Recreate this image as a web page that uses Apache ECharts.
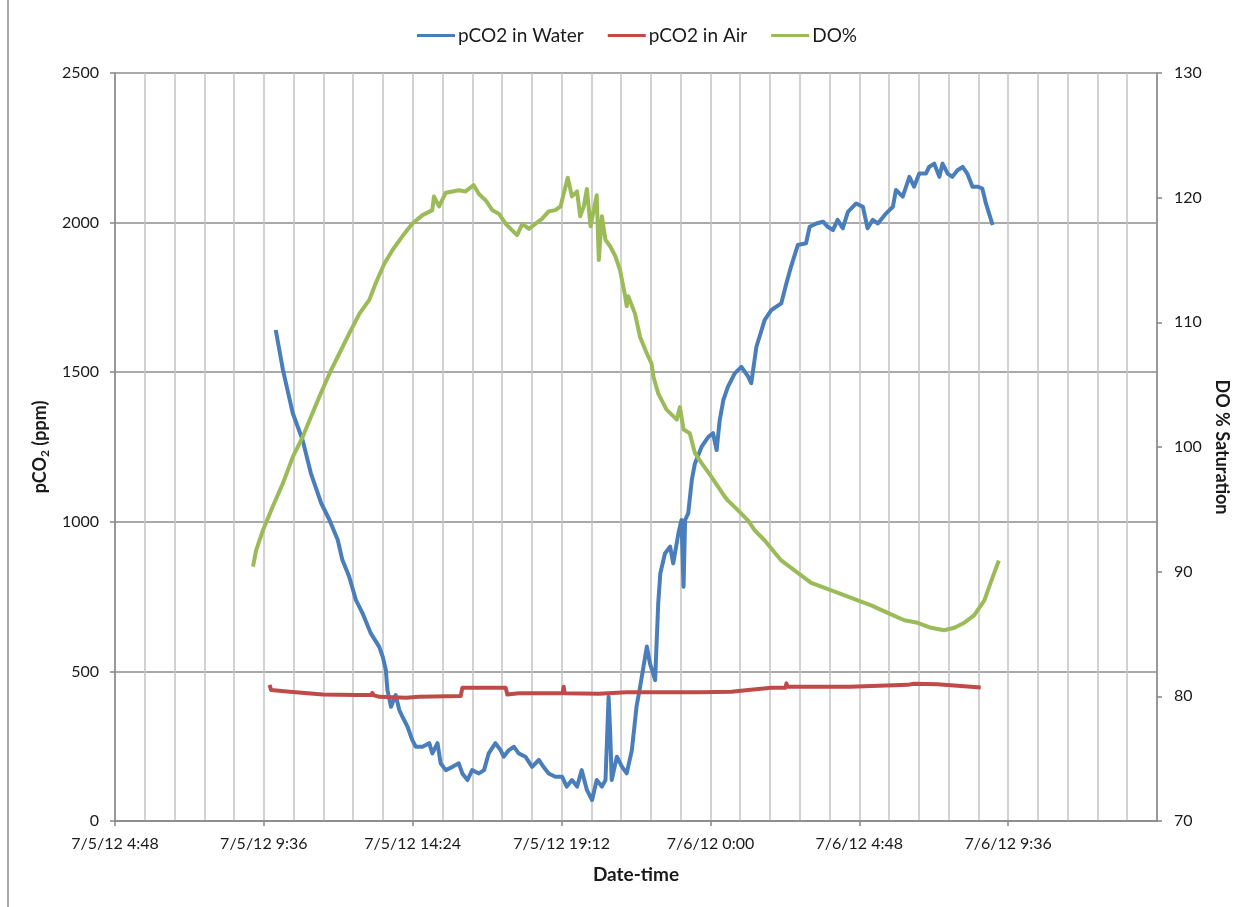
<!DOCTYPE html>
<html>
<head>
<meta charset="utf-8">
<script src="https://cdn.jsdelivr.net/npm/echarts@6/dist/echarts.min.js"></script>
<style>
  html, body { margin: 0; padding: 0; background: #ffffff; }
  #chart { width: 1256px; height: 907px; }
</style>
</head>
<body>
<div id="chart"></div>
<script>
// Time stamps are minutes after 7/5/12 00:00.
const xTickLabels = ['7/5/12 4:48', '7/5/12 9:36', '7/5/12 14:24', '7/5/12 19:12',
                     '7/6/12 0:00', '7/6/12 4:48', '7/6/12 9:36'];

// pCO2 in water (ppm)
const waterMinutes = [599,613,632,651,667,687,703,719,728,741,
  754,767,783,799,806,812,815,822,827,831,
  838,844,854,863,870,883,896,902,912,918,
  928,941,953,960,970,979,992,1002,1011,1024,
  1034,1040,1050,1060,1069,1082,1095,1108,1117,1127,
  1140,1153,1162,1172,1182,1191,1201,1211,1220,1230,
  1237,1243,1246,1249,1259,1269,1278,1288,1297,1304,
  1317,1323,1333,1339,1343,1352,1362,1368,1378,1384,
  1388,1391,1397,1404,1410,1423,1436,1445,1452,1458,
  1465,1474,1487,1500,1513,1519,1529,1545,1558,1577,
  1587,1596,1606,1609,1625,1632,1645,1658,1667,1677,
  1686,1696,1706,1722,1735,1744,1754,1764,1780,1793,
  1799,1812,1825,1834,1844,1857,1863,1873,1883,1889,
  1899,1908,1918,1928,1937,1947,1957,1966,1973,1979,
  1986];
const waterPpm = [1641,1507,1363,1273,1162,1062,1006,939,872,817,
  739,694,627,583,549,505,438,382,404,421,
  371,349,315,271,248,248,260,226,260,193,
  170,181,193,159,137,170,159,170,226,260,
  237,215,237,248,226,215,181,204,181,159,
  148,148,115,137,115,170,104,70,137,115,
  137,415,300,137,215,181,159,237,382,449,
  583,527,471,727,827,894,917,861,961,1006,
  783,1006,1028,1140,1195,1251,1284,1296,1240,1340,
  1407,1452,1496,1518,1485,1463,1585,1675,1708,1730,
  1797,1853,1908,1925,1931,1986,1997,2003,1986,1975,
  2009,1981,2036,2064,2053,1981,2009,1997,2031,2053,
  2109,2087,2153,2120,2164,2164,2186,2197,2153,2197,
  2164,2153,2175,2186,2164,2120,2120,2114,2064,2031,
  1992];

// pCO2 in air (ppm)
const airMinutes = [587,590,626,690,754,784,786,788,799,851,
  876,957,960,1044,1047,1069,1154,1156,1158,1224,
  1278,1420,1481,1513,1558,1585,1587,1589,1710,1712,
  1822,1834,1879,1918,1963];
const airPpm = [455,438,432,423,421,421,428,421,415,412,
  415,418,445,445,423,427,427,449,427,425,
  430,430,432,438,445,445,460,449,449,452,
  455,459,457,452,446];

// Dissolved oxygen (% saturation)
const doMinutes = [555,561,574,593,613,632,651,667,683,703,
  722,741,761,780,793,809,825,844,863,883,
  902,905,915,928,941,953,966,982,992,1005,
  1018,1031,1044,1056,1066,1076,1089,1101,1114,1127,
  1140,1150,1156,1164,1172,1182,1188,1195,1201,1208,
  1220,1224,1230,1237,1246,1256,1265,1275,1278,1281,
  1294,1304,1317,1326,1330,1339,1355,1375,1381,1388,
  1400,1410,1423,1442,1455,1468,1474,1494,1513,1526,
  1545,1577,1609,1635,1674,1706,1725,1751,1783,1815,
  1841,1867,1892,1912,1931,1950,1970,1982,1998];
const doPct = [90.4,91.7,93.3,95.2,97.1,99.2,100.8,102.4,104.0,105.9,
  107.5,109.1,110.7,111.8,113.2,114.7,115.8,116.9,117.9,118.6,
  119.0,120.1,119.3,120.4,120.5,120.6,120.5,121.0,120.3,119.8,
  119.0,118.7,117.9,117.4,117.0,117.9,117.5,117.9,118.3,118.9,
  119.0,119.3,120.3,121.6,120.1,120.5,118.5,119.3,120.7,117.7,
  120.2,115.0,118.5,116.6,116.1,115.3,114.2,112.1,111.3,112.1,
  110.7,108.8,107.5,106.7,105.6,104.3,103.0,102.2,103.2,101.4,
  101.1,99.5,98.7,97.6,96.8,96.0,95.7,94.9,94.1,93.3,
  92.5,90.9,89.9,89.1,88.5,88.0,87.7,87.3,86.7,86.1,
  85.9,85.5,85.3,85.5,85.9,86.5,87.7,89.1,90.9];

const zip = (xs, ys) => xs.map((x, i) => [x, ys[i]]);

const FONT = 'Lato, "Liberation Sans", sans-serif';
const TEXT = '#1a1a1a';
const AXIS = '#868686';

const chart = echarts.init(document.getElementById('chart'), null, { renderer: 'canvas' });

chart.setOption({
  animation: false,
  backgroundColor: '#ffffff',
  textStyle: { fontFamily: FONT },
  graphic: [{
    type: 'line',
    shape: { x1: 8, y1: 0, x2: 8, y2: 907 },
    style: { stroke: '#8c8c8c', lineWidth: 1.5 },
    silent: true
  }],
  legend: {
    left: 412,
    top: 21,
    icon: 'rect',
    itemWidth: 38,
    itemHeight: 3,
    itemGap: 24,
    textStyle: { fontFamily: FONT, fontSize: 19, color: TEXT, padding: [0, 0, 0, -2] },
    data: ['pCO2 in Water', 'pCO2 in Air', 'DO%']
  },
  grid: { left: 115, right: 99, top: 73, bottom: 86, containLabel: false },
  xAxis: {
    type: 'value',
    min: 288,
    max: 2304,
    interval: 288,
    name: 'Date-time',
    nameLocation: 'middle',
    nameGap: 44,
    nameTextStyle: { fontFamily: FONT, fontSize: 19, fontWeight: 'bold', color: TEXT },
    axisLine: { show: true, lineStyle: { color: AXIS, width: 1.5 } },
    axisTick: { show: true, inside: false, length: 5, lineStyle: { color: AXIS, width: 1.5 } },
    axisLabel: {
      margin: 15,
      fontFamily: FONT, fontSize: 16, color: TEXT,
      showMaxLabel: false,
      formatter: v => {
        const k = Math.round((v - 288) / 288);
        return xTickLabels[k] || '';
      }
    },
    splitLine: { show: true, lineStyle: { color: '#c3c3c3', width: 1.5 } },
    minorTick: { show: false, splitNumber: 5 },
    minorSplitLine: { show: true, lineStyle: { color: '#c3c3c3', width: 1.5 } }
  },
  yAxis: [{
    type: 'value',
    min: 0,
    max: 2500,
    interval: 500,
    position: 'left',
    name: '{b|pCO}{s|2}{b| (ppm)}',
    nameLocation: 'middle',
    nameGap: 52,
    nameTextStyle: {
      rich: {
        b: { fontFamily: FONT, fontSize: 18, fontWeight: 'bold', color: TEXT, lineHeight: 22, verticalAlign: 'middle' },
        s: { fontFamily: FONT, fontSize: 12, fontWeight: 'bold', color: TEXT, lineHeight: 22, verticalAlign: 'bottom', padding: [6, 0, 0, 0] }
      }
    },
    axisLine: { show: true, lineStyle: { color: AXIS, width: 1.5 } },
    axisTick: { show: true, inside: false, length: 5, lineStyle: { color: AXIS, width: 1.5 } },
    axisLabel: { margin: 16, fontFamily: FONT, fontSize: 16, color: TEXT, formatter: v => String(v) },
    splitLine: { show: true, lineStyle: { color: '#8c8c8c', width: 1.5 } }
  }, {
    type: 'value',
    min: 70,
    max: 130,
    interval: 10,
    position: 'right',
    name: 'DO % Saturation',
    nameLocation: 'middle',
    nameRotate: -90,
    nameGap: 54,
    nameTextStyle: { fontFamily: FONT, fontSize: 18, fontWeight: 'bold', color: TEXT },
    axisLine: { show: true, lineStyle: { color: AXIS, width: 1.5 } },
    axisTick: { show: true, inside: false, length: 5, lineStyle: { color: AXIS, width: 1.5 } },
    axisLabel: { margin: 17, fontFamily: FONT, fontSize: 16, color: TEXT, formatter: v => String(v) },
    splitLine: { show: false }
  }],
  series: [{
    name: 'pCO2 in Water',
    type: 'line',
    yAxisIndex: 0,
    showSymbol: false,
    symbol: 'none',
    color: '#4a7ebb',
    lineStyle: { width: 4, color: '#4a7ebb', join: 'round' },
    data: zip(waterMinutes, waterPpm)
  }, {
    name: 'pCO2 in Air',
    type: 'line',
    yAxisIndex: 0,
    showSymbol: false,
    symbol: 'none',
    color: '#be4b48',
    lineStyle: { width: 4, color: '#be4b48', join: 'round' },
    data: zip(airMinutes, airPpm)
  }, {
    name: 'DO%',
    type: 'line',
    yAxisIndex: 1,
    showSymbol: false,
    symbol: 'none',
    color: '#9bbb59',
    lineStyle: { width: 4, color: '#9bbb59', join: 'round' },
    data: zip(doMinutes, doPct)
  }]
});
</script>
</body>
</html>
